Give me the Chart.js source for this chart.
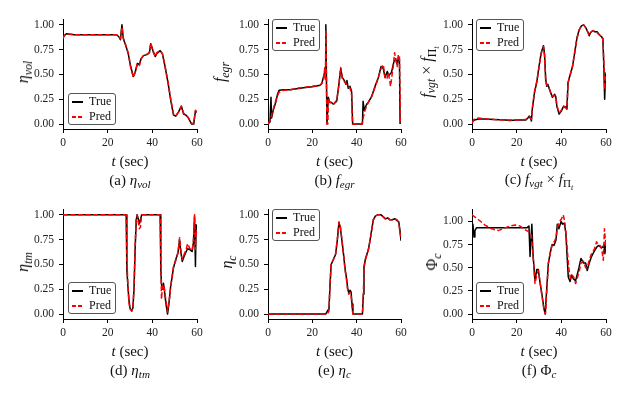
<!DOCTYPE html>
<html>
<head>
<meta charset="utf-8">
<script src="https://cdn.jsdelivr.net/npm/chart.js@4.4.1/dist/chart.umd.min.js"></script>
<style>
  body { margin: 0; width: 626px; height: 394px; position: relative; overflow: hidden; background: #fff;
         font-family: "Liberation Serif", "DejaVu Serif", serif; color: #111; }
  canvas { position: absolute; }
  .lbl { position: absolute; transform: translate(-50%, -50%); white-space: nowrap; font-size: 15px; line-height: 1; }
  .ylbl { transform: translate(-50%, -50%) rotate(-90deg); font-size: 16px; }
  sub { font-size: 0.74em; vertical-align: -0.3em; line-height: 0; }
  .leg { position: absolute; width: 46px; height: 30px; border: 1px solid #555; border-radius: 3px;
         background: rgba(255, 255, 255, 0.85); font-size: 12px; }
  .leg .row { position: absolute; left: 20px; line-height: 1; }
  .leg .sw { position: absolute; left: 3px; width: 11px; height: 1.5px; }
</style>
</head>
<body>
<script>
// x axis ticks shared by all panels
const xTicks = [0, 20, 40, 60];
const yTicks = [0, 0.25, 0.5, 0.75, 1.0];

// (a) eta_vol
const volTime = [0, 0.5, 1.5, 5, 10, 15, 20, 24, 25, 25.7, 26.4, 27, 28, 29.2, 30.3, 31.5, 32.3, 33.3, 34.2, 35,
  36, 37.5, 38.7, 39.3, 40.3, 41.3, 42, 43.5, 44.5, 45.7, 47, 48.3, 49.5, 50.5, 51.7, 53, 54, 55, 56.2, 57.5, 58.5, 59.3, 60];
const volTrue = [0.87, 0.89, 0.91, 0.90, 0.90, 0.90, 0.90, 0.90, 0.88, 0.85, 1.00, 0.86, 0.80, 0.71, 0.58, 0.48, 0.52, 0.61, 0.60, 0.66,
  0.69, 0.70, 0.72, 0.81, 0.74, 0.68, 0.71, 0.74, 0.71, 0.58, 0.42, 0.23, 0.09, 0.08, 0.12, 0.18, 0.10, 0.09, 0.06, 0.00, 0.00, 0.13, 0.12];
const volPred = [0.86, 0.89, 0.91, 0.90, 0.90, 0.90, 0.90, 0.90, 0.88, 0.86, 0.98, 0.87, 0.80, 0.72, 0.57, 0.47, 0.52, 0.61, 0.59, 0.66,
  0.69, 0.70, 0.72, 0.82, 0.73, 0.68, 0.72, 0.74, 0.71, 0.58, 0.43, 0.24, 0.10, 0.08, 0.12, 0.18, 0.11, 0.09, 0.06, 0.01, 0.00, 0.14, 0.12];

// (b) f_egr
const egrTrueTime = [0, 0.9, 1.35, 1.6, 2.5, 3.5, 4.3, 5, 7, 10, 13, 16, 20, 23.5, 24.3, 25.3, 25.8, 26.1, 26.6, 27.2,
  27.8, 28.5, 29.5, 31, 32, 32.8, 33.5, 34.4, 35.2, 35.6, 36.2, 37, 37.7, 38.2, 42.6, 42.9, 43.4, 44.5, 45.3, 46.8,
  48.3, 49.8, 51, 52, 52.8, 53.8, 54.5, 55.7, 56.8, 57.6, 58.3, 58.8, 59.3, 59.6];
const egrTrue = [0.0, 0.02, 0.27, 0.06, 0.15, 0.22, 0.30, 0.34, 0.345, 0.345, 0.355, 0.365, 0.375, 0.39, 0.41, 0.50, 0.55, 1.00, 0.0, 0.27,
  0.22, 0.22, 0.20, 0.23, 0.40, 0.56, 0.47, 0.44, 0.40, 0.44, 0.36, 0.38, 0.33, 0.0, 0.0, 0.23, 0.14, 0.20, 0.22, 0.28,
  0.38, 0.47, 0.58, 0.56, 0.47, 0.53, 0.49, 0.52, 0.63, 0.66, 0.60, 0.67, 0.65, 0.0];
const egrPredTime = [0, 1, 2, 3, 4, 5, 7, 10, 13, 16, 20, 23.5, 24.5, 25.2, 25.6, 25.9, 26.1, 26.6, 27.0, 27.3,
  27.8, 28.5, 29.5, 31, 32, 32.8, 33.5, 34.4, 35.2, 36.2, 37, 37.7, 38.1, 42.4, 43.5, 44.5, 45.3, 46.8, 48.3, 49.8,
  51, 52, 52.8, 53.6, 54.3, 54.8, 55.3, 56, 56.6, 57.1, 57.7, 58.3, 58.8, 59.3, 59.8];
const egrPred = [0.0, 0.04, 0.12, 0.20, 0.27, 0.32, 0.34, 0.345, 0.36, 0.37, 0.38, 0.39, 0.42, 0.47, 0.57, 0.45, 0.95, 0.0, 0.0, 0.26,
  0.22, 0.21, 0.20, 0.24, 0.40, 0.57, 0.46, 0.43, 0.41, 0.38, 0.36, 0.30, 0.0, 0.0, 0.12, 0.18, 0.22, 0.28, 0.37, 0.47,
  0.56, 0.60, 0.47, 0.45, 0.52, 0.45, 0.38, 0.50, 0.60, 0.72, 0.64, 0.58, 0.70, 0.68, 0.0];

// (c) f_vgt x f_Pi_t
const vgtTime = [0, 0.5, 1, 3, 5, 10, 15, 17, 20, 24, 25, 25.6, 26.1, 26.6, 27, 28, 29, 30, 31, 32,
  32.5, 33, 33.5, 34, 35, 36, 37, 37.5, 38, 39, 40, 41, 42, 42.5, 43, 44, 45, 46, 47, 48,
  49, 50, 51, 52, 52.5, 53, 54, 55, 56, 57, 58, 58.6, 59, 59.4, 59.7, 60];
const vgtTrue = [0.05, 0.03, 0.04, 0.05, 0.05, 0.045, 0.04, 0.035, 0.04, 0.04, 0.06, 0.08, 0.07, 0.03, 0.15, 0.32, 0.42, 0.58, 0.72, 0.79,
  0.70, 0.45, 0.38, 0.40, 0.33, 0.27, 0.30, 0.28, 0.18, 0.10, 0.13, 0.18, 0.17, 0.15, 0.42, 0.50, 0.58, 0.72, 0.87, 0.95,
  0.99, 1.0, 0.97, 0.92, 0.89, 0.92, 0.94, 0.93, 0.93, 0.90, 0.88, 0.86, 0.60, 0.25, 0.45, 0.52];
const vgtPred = [0.01, 0.03, 0.05, 0.06, 0.055, 0.045, 0.04, 0.04, 0.04, 0.045, 0.06, 0.07, 0.06, 0.05, 0.16, 0.33, 0.43, 0.57, 0.71, 0.78,
  0.68, 0.44, 0.39, 0.39, 0.33, 0.28, 0.29, 0.27, 0.19, 0.11, 0.14, 0.18, 0.16, 0.16, 0.41, 0.50, 0.58, 0.73, 0.86, 0.95,
  0.99, 1.0, 0.97, 0.92, 0.90, 0.92, 0.94, 0.93, 0.92, 0.90, 0.88, 0.86, 0.65, 0.35, 0.48, 0.52];

// (d) eta_tm
const tmTime = [0, 28.3, 28.6, 29, 29.5, 30, 30.8, 31.3, 31.8, 32.3, 32.8, 33.2, 33.7, 34.2, 34.7, 35.2, 43.5, 43.8, 44.1, 44.6,
  45.0, 45.5, 46.0, 46.8, 47.5, 48.2, 49.5, 50.5, 51.5, 52.2, 52.8, 53.4, 54.2, 55.0, 55.8, 56.8, 57.8, 58.4, 58.9, 59.3, 59.6, 60];
const tmTrue = [1, 1, 0.45, 0.30, 0.15, 0.06, 0.03, 0.06, 0.25, 0.65, 0.95, 1.0, 0.96, 0.91, 0.95, 1.0, 1.0, 0.45, 0.30, 0.25,
  0.31, 0.22, 0.12, 0.0, 0.12, 0.28, 0.47, 0.55, 0.62, 0.75, 0.62, 0.53, 0.58, 0.62, 0.66, 0.65, 0.63, 0.72, 0.98, 0.48, 0.90, 0.85];
const tmPred = [1, 1, 0.55, 0.32, 0.12, 0.05, 0.03, 0.07, 0.28, 0.68, 0.97, 1.0, 0.93, 0.86, 0.88, 1.0, 1.0, 0.60, 0.15, 0.30,
  0.28, 0.25, 0.15, 0.02, 0.12, 0.27, 0.48, 0.54, 0.62, 0.77, 0.64, 0.55, 0.60, 0.64, 0.71, 0.66, 0.64, 0.74, 1.0, 0.65, 0.85, 0.80];

// (e) eta_c
const ecTime = [0, 26.0, 26.8, 27.5, 28.0, 28.5, 29.5, 30.5, 31.3, 32.0, 32.6, 33.3, 34.0, 34.8, 35.5, 36.0, 36.5, 37.0, 37.5, 37.9,
  38.3, 42.6, 43.0, 43.3, 44.0, 45.3, 46.3, 47.5, 48.5, 49.5, 51.0, 52.0, 53.0, 54.0, 55.0, 56.0, 57.3, 58.3, 59.0, 59.5, 60];
const ecTrue = [0, 0, 0.03, 0.05, 0.30, 0.50, 0.55, 0.60, 0.75, 0.92, 0.88, 0.75, 0.62, 0.45, 0.35, 0.25, 0.21, 0.24, 0.22, 0.10,
  0.0, 0.0, 0.20, 0.48, 0.56, 0.65, 0.78, 0.95, 0.99, 1.0, 1.0, 0.98, 0.96, 0.97, 0.95, 0.95, 0.96, 0.94, 0.93, 0.85, 0.74];
const ecPred = [0, 0, 0.0, 0.03, 0.32, 0.51, 0.55, 0.61, 0.76, 0.93, 0.89, 0.76, 0.61, 0.44, 0.33, 0.23, 0.20, 0.22, 0.18, 0.08,
  0.0, 0.0, 0.18, 0.46, 0.55, 0.65, 0.77, 0.95, 0.99, 1.0, 1.0, 0.98, 0.96, 0.97, 0.95, 0.95, 0.96, 0.95, 0.92, 0.82, 0.78];

// (f) Phi_c
const phiTrueTime = [0, 0.4, 0.9, 1.3, 2, 10, 20, 24.5, 25.5, 26.0, 26.8, 27.3, 28.2, 29.0, 29.7, 30.4, 31.4, 32.2, 32.8, 33.4,
  34.2, 35.2, 35.9, 36.7, 37.6, 38.2, 38.9, 39.9, 40.5, 41.3, 42.0, 43.1, 43.9, 44.6, 45.4, 46.4, 47.9, 48.8, 49.9, 50.9,
  51.6, 52.5, 53.5, 54.8, 55.8, 56.6, 57.8, 58.6, 59.1, 59.5, 60];
const phiTrue = [0.93, 0.97, 0.83, 0.90, 0.93, 0.93, 0.93, 0.93, 0.95, 0.62, 0.97, 0.65, 0.36, 0.48, 0.48, 0.35, 0.20, 0.06, 0.0, 0.25,
  0.55, 0.68, 0.75, 0.74, 0.80, 0.97, 0.92, 1.0, 0.97, 0.98, 0.88, 0.40, 0.35, 0.42, 0.38, 0.36, 0.50, 0.60, 0.55, 0.55,
  0.47, 0.55, 0.62, 0.68, 0.72, 0.74, 0.72, 0.72, 0.75, 0.65, 0.80];
const phiPredTime = [0, 2.8, 5.8, 8.8, 11.8, 14.8, 17, 19.3, 21.5, 23.7, 26, 26.6, 27.3, 28.2, 29.0, 29.7, 30.4, 31.4, 32.2, 32.9,
  33.6, 34.2, 35.2, 36.0, 36.8, 37.6, 38.4, 39.2, 39.9, 40.9, 41.6, 42.3, 43.3, 44.1, 44.8, 45.5, 46.4, 47.9, 48.8, 49.9,
  50.9, 51.6, 52.5, 53.5, 54.8, 55.8, 56.6, 57.4, 58.1, 58.8, 59.3, 60];
const phiPred = [1.07, 1.02, 0.96, 0.92, 0.90, 0.93, 0.95, 0.96, 0.95, 0.91, 0.88, 0.85, 0.65, 0.33, 0.42, 0.47, 0.36, 0.18, 0.05, 0.0,
  0.30, 0.55, 0.68, 0.76, 0.78, 0.82, 0.95, 1.0, 1.02, 1.07, 0.98, 0.80, 0.50, 0.38, 0.42, 0.40, 0.33, 0.45, 0.55, 0.57,
  0.50, 0.50, 0.58, 0.65, 0.70, 0.78, 0.74, 0.74, 0.70, 0.58, 0.92, 0.70];

const panels = [
  { tag: "a", left: 23, top: 8, w: 134, yMin: -0.05, yMax: 1.05, tT: volTime, tV: volTrue, pT: volTime, pV: volPred,
    ylab: "<i>η<sub>vol</sub></i>", ylx: 23, cap: "(a) <i>η<sub>vol</sub></i>", leg: [68, 93] },
  { tag: "b", left: 228, top: 8, w: 133, yMin: -0.05, yMax: 1.05, tT: egrTrueTime, tV: egrTrue, pT: egrPredTime, pV: egrPred,
    ylab: "<i>f<sub>egr</sub></i>", ylx: 220, cap: "(b) <i>f<sub>egr</sub></i>", leg: [272, 19] },
  { tag: "c", left: 432, top: 8, w: 134, yMin: -0.05, yMax: 1.05, tT: vgtTime, tV: vgtTrue, pT: vgtTime, pV: vgtPred,
    ylab: "<i>f<sub>vgt</sub></i> × <i>f</i><sub>Π<sub><i>t</i></sub></sub>", ylx: 427,
    cap: "(c) <i>f<sub>vgt</sub></i> × <i>f</i><sub>Π<sub><i>t</i></sub></sub>", leg: [476, 19] },
  { tag: "d", left: 23, top: 198, w: 134, yMin: -0.05, yMax: 1.05, tT: tmTime, tV: tmTrue, pT: tmTime, pV: tmPred,
    ylab: "<i>η<sub>tm</sub></i>", ylx: 23, cap: "(d) <i>η<sub>tm</sub></i>", leg: [68, 282] },
  { tag: "e", left: 228, top: 198, w: 133, yMin: -0.05, yMax: 1.05, tT: ecTime, tV: ecTrue, pT: ecTime, pV: ecPred,
    ylab: "<i>η<sub>c</sub></i>", ylx: 227, cap: "(e) <i>η<sub>c</sub></i>", leg: [272, 209] },
  { tag: "f", left: 432, top: 198, w: 134, yMin: -0.0535, yMax: 1.1235, tT: phiTrueTime, tV: phiTrue, pT: phiPredTime, pV: phiPred,
    ylab: "Φ<sub><i>c</i></sub>", ylx: 432, cap: "(f) Φ<sub><i>c</i></sub>", leg: [476, 282] },
];

const AXIS_W = 40, AXIS_H = 24, PAD_TOP = 7, PAD_RIGHT = 12, PLOT_H = 114;
const tickFont = { family: "'Liberation Serif', serif", size: 11.5 };

function pts(t, v) { return t.map((x, i) => ({ x: x, y: v[i] })); }

function addHtml(cls, html, x, y) {
  const d = document.createElement("div");
  d.className = cls;
  d.innerHTML = html;
  d.style.left = x + "px";
  d.style.top = y + "px";
  document.body.appendChild(d);
}

panels.forEach(p => {
  const cv = document.createElement("canvas");
  cv.width = AXIS_W + p.w + PAD_RIGHT;
  cv.height = PAD_TOP + PLOT_H + AXIS_H;
  cv.style.left = p.left + "px";
  cv.style.top = p.top + "px";
  document.body.appendChild(cv);

  new Chart(cv, {
    type: "line",
    data: {
      datasets: [
        { label: "True", data: pts(p.tT, p.tV), borderColor: "#000", borderWidth: 1.5, order: 2 },
        { label: "Pred", data: pts(p.pT, p.pV), borderColor: "#ff0000", borderWidth: 1.5, borderDash: [5, 2.5], order: 1 },
      ],
    },
    options: {
      responsive: false,
      animation: false,
      elements: { point: { radius: 0 }, line: { tension: 0, borderJoinStyle: "round", fill: false } },
      layout: { padding: { top: PAD_TOP, right: PAD_RIGHT, left: 0, bottom: 0 } },
      plugins: { legend: { display: false }, tooltip: { enabled: false } },
      scales: {
        x: {
          type: "linear", min: 0, max: 60,
          afterFit: s => { s.height = AXIS_H; },
          afterBuildTicks: s => { s.ticks = xTicks.map(v => ({ value: v })); },
          ticks: { font: tickFont, color: "#222", padding: 3, maxRotation: 0, autoSkip: false },
          grid: { drawOnChartArea: false, drawTicks: true, tickLength: 4, color: "#000", lineWidth: 1 },
          border: { display: true, color: "#000", width: 1 },
        },
        y: {
          type: "linear", min: p.yMin, max: p.yMax,
          afterFit: s => { s.width = AXIS_W; },
          afterBuildTicks: s => { s.ticks = yTicks.map(v => ({ value: v })); },
          ticks: { font: tickFont, color: "#222", padding: 5, callback: v => v.toFixed(2) },
          grid: { drawOnChartArea: false, drawTicks: true, tickLength: 4, color: "#000", lineWidth: 1 },
          border: { display: true, color: "#000", width: 1 },
        },
      },
    },
  });

  const cx = p.left + AXIS_W + p.w / 2;
  const cy = p.top + PAD_TOP + PLOT_H / 2;
  const bottom = p.top + PAD_TOP + PLOT_H;
  addHtml("lbl ylbl", p.ylab, p.ylx, cy);
  addHtml("lbl", "<i>t</i> (sec)", cx, bottom + 32);
  addHtml("lbl", p.cap, cx, bottom + 51);

  const lg = document.createElement("div");
  lg.className = "leg";
  lg.style.left = p.leg[0] + "px";
  lg.style.top = p.leg[1] + "px";
  lg.innerHTML =
    '<div class="sw" style="top:7px;background:#000"></div><div class="row" style="top:1px">True</div>' +
    '<div class="sw" style="top:22px;background:repeating-linear-gradient(90deg,#f00 0 4px,transparent 4px 6px)"></div>' +
    '<div class="row" style="top:16px">Pred</div>';
  document.body.appendChild(lg);
});
</script>
</body>
</html>
